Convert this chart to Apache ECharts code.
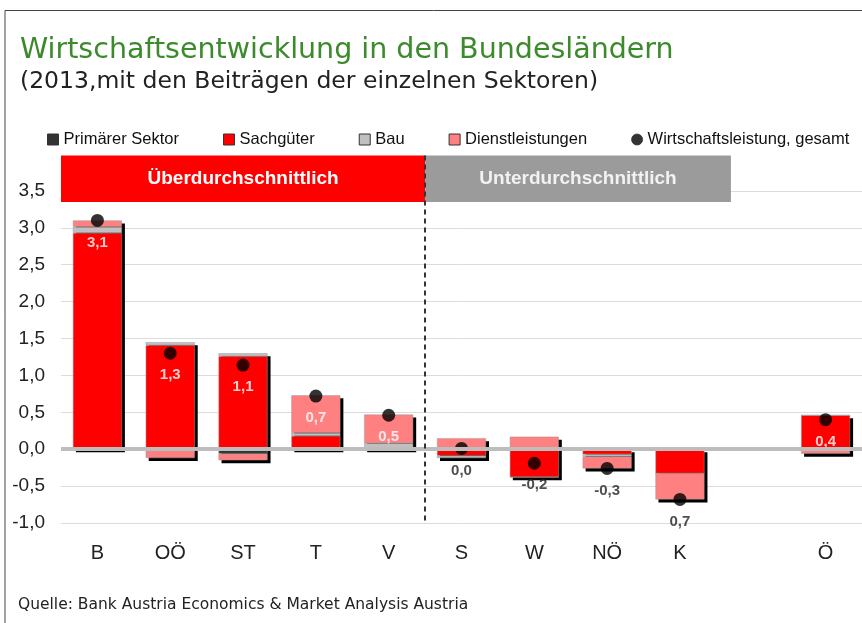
<!DOCTYPE html>
<html>
<head>
<meta charset="utf-8">
<script src="https://cdn.jsdelivr.net/npm/echarts@6/dist/echarts.min.js"></script>
<style>
  html, body { margin: 0; background: #fff; }
  #chart { width: 862px; height: 623px; }
</style>
</head>
<body>
<div id="chart"></div>
<script>
// Bundesländer, one empty slot before Österreich
const categories = ['B', 'OÖ', 'ST', 'T', 'V', 'S', 'W', 'NÖ', 'K', '', 'Ö'];
const primaer    = [0, 0, -0.06, 0, 0, 0, 0, 0, 0, null, 0];
const sachgueter = [2.93, 1.41, 1.26, 0.18, 0, -0.09, -0.38, -0.07, -0.33, null, 0.46];
const bau        = [0.08, 0.04, 0.04, 0.04, 0.08, -0.03, 0, -0.03, 0, null, 0];
const dienst     = [0.09, -0.12, -0.09, 0.51, 0.39, 0.15, 0.17, -0.16, -0.35, null, -0.06];
const gesamt     = [3.1, 1.3, 1.14, 0.72, 0.46, 0.01, -0.19, -0.26, -0.68, null, 0.40];
const gesamtLabels = ['3,1', '1,3', '1,1', '0,7', '0,5', '0,0', '-0,2', '-0,3', '0,7', '', '0,4'];

const FONT = "'Liberation Sans', Arial, sans-serif";
const TITLE_FONT = "'DejaVu Sans', Verdana, sans-serif";
const sectors = [
  { name: 'Primärer Sektor', data: primaer, color: '#333333' },
  { name: 'Sachgüter', data: sachgueter, color: '#ff0000' },
  { name: 'Bau', data: bau, color: '#c0c0c0' },
  { name: 'Dienstleistungen', data: dienst, color: '#ff8080' }
];

// positive / negative stack ends, used for the drop shadow
const shadowData = categories.map((c, i) => {
  let pos = 0, neg = 0;
  sectors.forEach(s => {
    const v = s.data[i] || 0;
    if (v > 0) pos += v; else neg += v;
  });
  return [i, pos, neg];
});

const chart = echarts.init(document.getElementById('chart'));

const barSeries = sectors.map(s => ({
  name: s.name,
  type: 'bar',
  stack: 'sektoren',
  barWidth: 49,
  z: 2,
  data: s.data,
  itemStyle: { color: s.color, borderColor: '#9a9a9a', borderWidth: 0.5 }
}));

const legendData = sectors.map(s => ({ name: s.name, icon: 'rect' }))
  .concat([{ name: 'Wirtschaftsleistung, gesamt', icon: 'circle' }]);

const option = {
  animation: false,
  backgroundColor: '#fff',
  textStyle: { fontFamily: FONT },
  title: [
    {
      text: 'Wirtschaftsentwicklung in den Bundesländern',
      left: 20, top: 36, padding: 0,
      textStyle: { fontFamily: TITLE_FONT, fontSize: 28.5, fontWeight: 'normal', color: '#3b8a2c' }
    },
    {
      text: '(2013,mit den Beiträgen der einzelnen Sektoren)',
      left: 20, top: 70, padding: 0,
      textStyle: { fontFamily: TITLE_FONT, fontSize: 23.5, fontWeight: 'normal', color: '#222' }
    },
    {
      text: 'Quelle: Bank Austria Economics & Market Analysis Austria',
      left: 18, top: 597, padding: 0,
      textStyle: { fontFamily: TITLE_FONT, fontSize: 15.5, fontWeight: 'normal', color: '#222' }
    }
  ],
  legend: {
    left: 47, top: 131, padding: 0, width: 850,
    itemWidth: 11, itemHeight: 11, itemGap: 44,
    data: legendData,
    itemStyle: { borderColor: '#333', borderWidth: 1 },
    textStyle: { fontFamily: FONT, fontSize: 16.5, color: '#111' }
  },
  grid: { left: 61, right: -5, top: 154, bottom: 100 },
  xAxis: [
    {
      type: 'category',
      data: categories,
      axisLine: { show: false },
      axisTick: { show: false },
      axisLabel: { margin: 20, fontSize: 20, color: '#222', fontFamily: FONT }
    },
    { type: 'value', min: -0.5, max: 10.5, show: false }
  ],
  yAxis: {
    type: 'value',
    min: -1, max: 4, interval: 0.5,
    axisLine: { show: false },
    axisTick: { show: false },
    splitLine: { showMaxLine: false, lineStyle: { color: '#dcdcdc', width: 1 } },
    axisLabel: {
      margin: 16, fontSize: 19, color: '#222', fontFamily: FONT, showMaxLabel: false,
      formatter: v => v >= 4 ? '' : v.toFixed(1).replace('.', ',')
    }
  },
  series: [
    {
      type: 'custom',
      silent: true,
      z: 1,
      data: shadowData,
      encode: { x: 0, y: [1, 2] },
      renderItem(params, api) {
        const top = api.coord([api.value(0), api.value(1)]);
        const bot = api.coord([api.value(0), api.value(2)]);
        const w = 49;
        return {
          type: 'rect',
          shape: { x: top[0] - w / 2 + 3, y: top[1] + 3, width: w, height: bot[1] - top[1] },
          style: { fill: '#000' }
        };
      }
    },
    ...barSeries,
    {
      type: 'line',
      xAxisIndex: 1,
      data: [],
      clip: false,
      silent: true,
      z: 3,
      markArea: {
        silent: true,
        label: { show: true, position: 'inside', color: '#fff', fontSize: 19, fontWeight: 'bold', fontFamily: FONT },
        data: [
          [{ name: 'Überdurchschnittlich', xAxis: -0.58, yAxis: 3.35, itemStyle: { color: '#ff0000' } }, { xAxis: 4.5, yAxis: 3.98 }],
          [{ name: 'Unterdurchschnittlich', xAxis: 4.5, yAxis: 3.35, itemStyle: { color: '#9b9b9b' }, label: { color: '#f2f2f2' } }, { xAxis: 8.7, yAxis: 3.98 }]
        ]
      },
      markLine: {
        silent: true,
        symbol: 'none',
        label: { show: false },
        data: [
          [{ coord: [-0.5, 0], lineStyle: { color: '#bdbdbd', width: 4, type: 'solid' } }, { coord: [10.5, 0] }],
          [{ coord: [4.5, 3.98], lineStyle: { color: '#333', width: 2, type: [5, 4] } }, { coord: [4.5, -0.97] }]
        ]
      }
    },
    {
      name: 'Wirtschaftsleistung, gesamt',
      type: 'scatter',
      symbol: 'circle',
      symbolSize: 13,
      z: 4,
      itemStyle: { color: '#000' },
      label: {
        show: true, position: 'bottom', distance: 8,
        fontSize: 15, fontWeight: 'bold', fontFamily: FONT
      },
      data: gesamt.map((v, i) => v === null ? null : {
        value: v,
        label: { formatter: gesamtLabels[i], color: v > 0.1 ? '#fff' : '#222' }
      })
    }
  ],
  graphic: [
    {
      type: 'polyline',
      silent: true,
      shape: { points: [[5, 623], [5, 10.5], [862, 10.5]] },
      style: { stroke: '#444', lineWidth: 1, fill: null }
    }
  ]
};

chart.setOption(option);
</script>
</body>
</html>
